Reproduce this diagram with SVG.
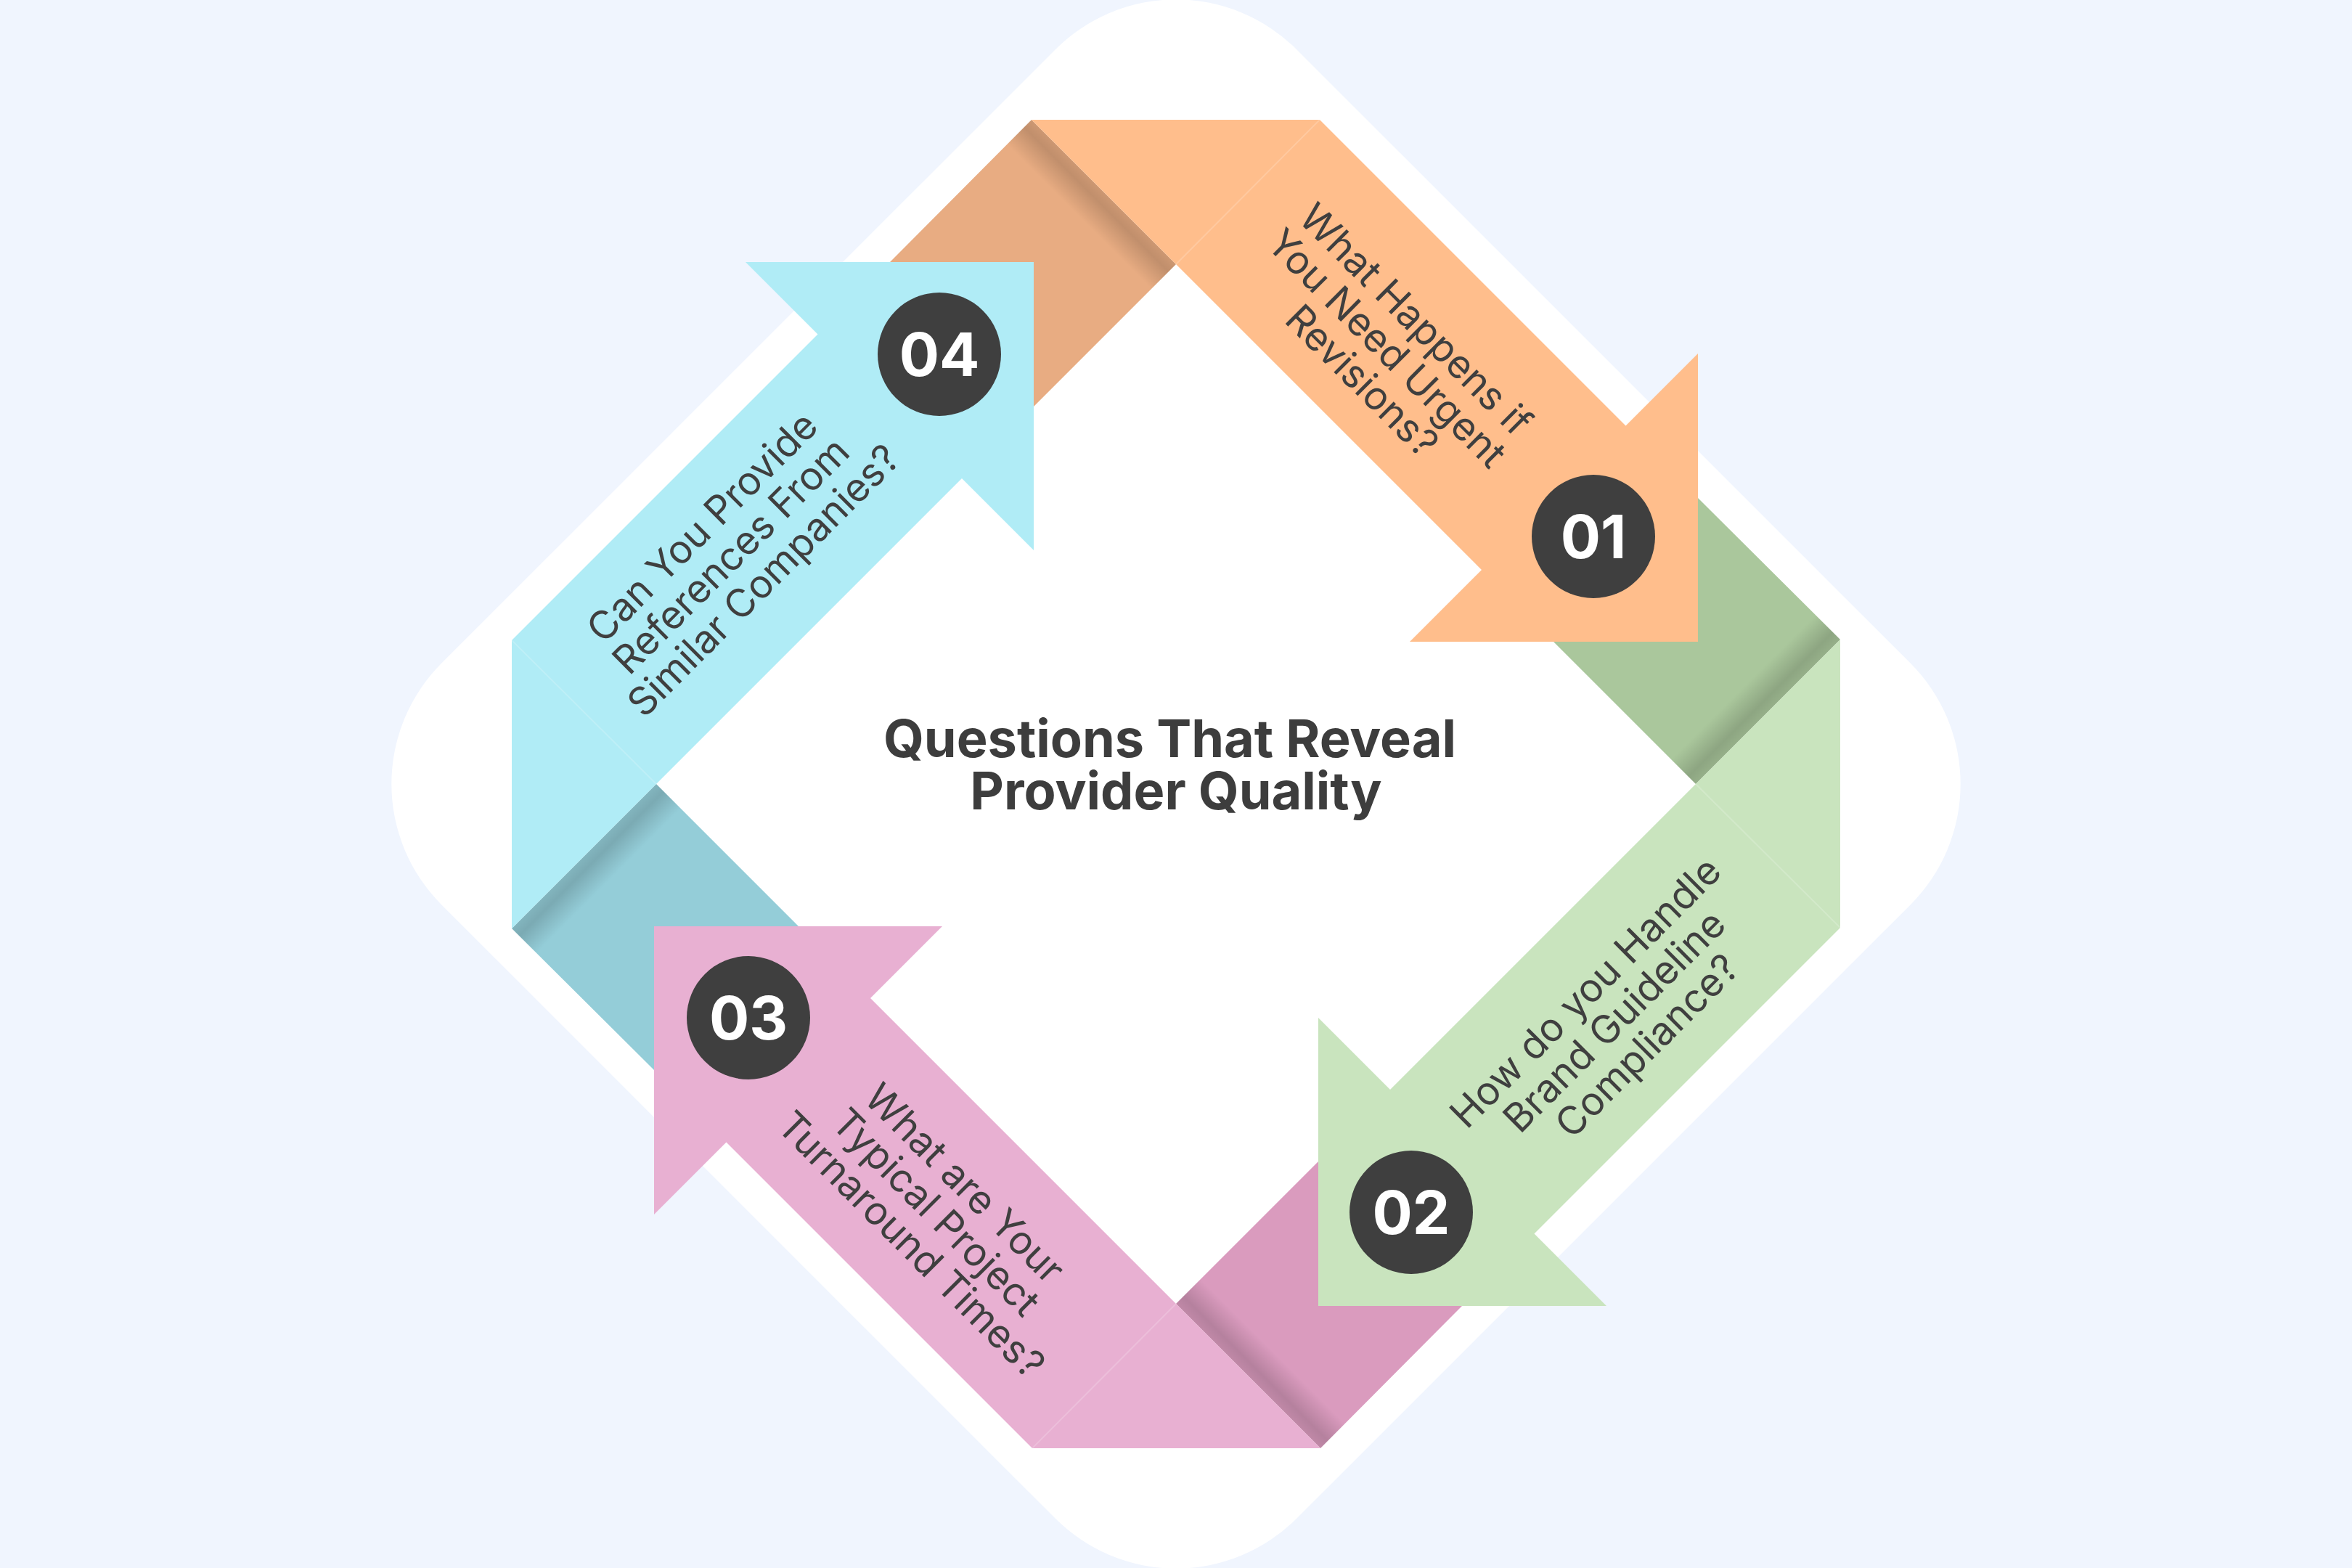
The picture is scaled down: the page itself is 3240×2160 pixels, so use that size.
<svg xmlns="http://www.w3.org/2000/svg" xmlns:xlink="http://www.w3.org/1999/xlink" width="3240" height="2160" viewBox="0 0 3240 2160">
  <defs>
    <style>
      .lbl { font-family: Inter, "Liberation Sans", sans-serif; font-size: 54px; fill: #3F3F3F; text-anchor: middle; }
      .num { font-family: Inter, "Liberation Sans", sans-serif; font-weight: 700; font-size: 82px; fill: #FFFFFF; text-anchor: middle; }
      .title { font-family: Inter, "Liberation Sans", sans-serif; font-weight: 700; font-size: 72px; fill: #3D3D3D; text-anchor: middle; }
      .badge { fill: #3F3F3F; }
      .crease { stroke: #FFFFFF; stroke-opacity: 0.18; stroke-width: 2; fill: none; }
    </style>
    <linearGradient id="foldShadow" gradientUnits="userSpaceOnUse" x1="1520" y1="264" x2="1486" y2="298">
      <stop offset="0" stop-color="#000" stop-opacity="0.12"/>
      <stop offset="0.3" stop-color="#000" stop-opacity="0.17"/>
      <stop offset="1" stop-color="#000" stop-opacity="0"/>
    </linearGradient>
    <polygon id="foldShape" points="1421,165 1620,364 1424,560 1424,361 1226,361"/>
    <polygon id="arrowShape" points="1421,165 1818,165 2239.5,586.5 2339,487 2339,884 1942,884 2041,785"/>
    <line id="creaseLine" x1="1620" y1="364" x2="1818" y2="165"/>
  </defs>

  <rect x="0" y="0" width="3240" height="2160" fill="#F0F5FE"/>
  <rect x="787" y="247" width="1666" height="1666" rx="235" ry="235" fill="#FFFFFF" transform="rotate(45 1620 1080)"/>

  <g id="node-01">
    <g>
      <use xlink:href="#foldShape" fill="#E8AC82"/>
      <use xlink:href="#foldShape" fill="url(#foldShadow)"/>
      <use xlink:href="#arrowShape" fill="#FFBE8C"/>
      <use xlink:href="#creaseLine" class="crease"/>
    </g>
    <circle class="badge" cx="2195" cy="739" r="85"/>
    <text class="num" x="2195" y="769">01</text>
    <text class="lbl" transform="translate(1916 485) rotate(45)">
      <tspan x="0" y="-37">What Happens if</tspan>
      <tspan x="0" y="19">You Need Urgent</tspan>
      <tspan x="0" y="75">Revisions?</tspan>
    </text>
  </g>

  <g id="node-02">
    <g transform="rotate(90 1620 1080)">
      <use xlink:href="#foldShape" fill="#AAC79C"/>
      <use xlink:href="#foldShape" fill="url(#foldShadow)"/>
      <use xlink:href="#arrowShape" fill="#C9E4BE"/>
      <use xlink:href="#creaseLine" class="crease"/>
    </g>
    <circle class="badge" cx="1944" cy="1670" r="85"/>
    <text class="num" x="1944" y="1700">02</text>
    <text class="lbl" transform="translate(2229 1401) rotate(-45)">
      <tspan x="0" y="-37">How do you Handle</tspan>
      <tspan x="0" y="19">Brand Guideline</tspan>
      <tspan x="0" y="75">Compliance?</tspan>
    </text>
  </g>

  <g id="node-03">
    <g transform="rotate(180 1620 1080)">
      <use xlink:href="#foldShape" fill="#DA9BBE"/>
      <use xlink:href="#foldShape" fill="url(#foldShadow)"/>
      <use xlink:href="#arrowShape" fill="#E8B0D2"/>
      <use xlink:href="#creaseLine" class="crease"/>
    </g>
    <circle class="badge" cx="1031" cy="1402" r="85"/>
    <text class="num" x="1031" y="1432">03</text>
    <text class="lbl" transform="translate(1295 1675) rotate(45)">
      <tspan x="0" y="-37">What are Your</tspan>
      <tspan x="0" y="19">Typical Project</tspan>
      <tspan x="0" y="75">Turnaround Times?</tspan>
    </text>
  </g>

  <g id="node-04">
    <g transform="rotate(270 1620 1080)">
      <use xlink:href="#foldShape" fill="#94CDD8"/>
      <use xlink:href="#foldShape" fill="url(#foldShadow)"/>
      <use xlink:href="#arrowShape" fill="#B0ECF6"/>
      <use xlink:href="#creaseLine" class="crease"/>
    </g>
    <circle class="badge" cx="1294" cy="488" r="85"/>
    <text class="num" x="1294" y="518">04</text>
    <text class="lbl" transform="translate(1012 760) rotate(-45)">
      <tspan x="0" y="-37">Can You Provide</tspan>
      <tspan x="0" y="19">References From</tspan>
      <tspan x="0" y="75">Similar Companies?</tspan>
    </text>
  </g>

  <g id="title">
    <text class="title" x="1620" y="1043">
      <tspan x="1620" y="1043">Questions That Reveal</tspan>
      <tspan x="1620" y="1115">Provider Quality</tspan>
    </text>
  </g>
</svg>
